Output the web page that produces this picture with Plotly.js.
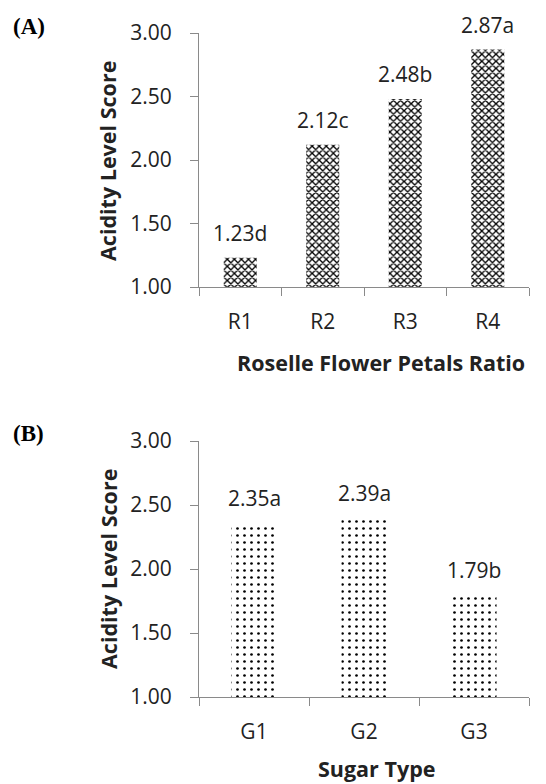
<!DOCTYPE html>
<html>
<head>
<meta charset="utf-8">
<script src="https://cdn.plot.ly/plotly-3.0.1.min.js"></script>
<style>html,body{margin:0;padding:0;background:#fff;}#chart{width:546px;height:784px;}</style>
</head>
<body>
<div id="chart"></div>
<script>
// Panel A data
const ratioCats = ["R1", "R2", "R3", "R4"];
const ratioValues = [1.23, 2.12, 2.48, 2.87];
const ratioLetters = ["d", "c", "b", "a"];
// Panel B data
const sugarCats = ["G1", "G2", "G3"];
const sugarValues = [2.35, 2.39, 1.79];
const sugarLetters = ["a", "a", "b"];
const yTickVals = [1.0, 1.5, 2.0, 2.5, 3.0];
const yTickText = ["1.00", "1.50", "2.00", "2.50", "3.00"];

const FONT = "Open Sans, Lato, sans-serif";
const TXT = "#222222";
const AXC = "#8a8a8a";

const traceA = {
  type: "bar", x: ratioCats, y: ratioValues, xaxis: "x", yaxis: "y",
  width: 0.4,
  marker: {color: "#ffffff", line: {width: 0},
    pattern: {shape: "x", size: 5, solidity: 0.45, fgcolor: "#000000", bgcolor: "#ffffff"}},
  hoverinfo: "skip"
};
const traceB = {
  type: "bar", x: sugarCats, y: sugarValues, xaxis: "x2", yaxis: "y2",
  width: 0.41,
  marker: {color: "#ffffff", line: {width: 0},
    pattern: {shape: ".", size: 7, solidity: 0.12, fgcolor: "#000000", bgcolor: "#ffffff"}},
  hoverinfo: "skip"
};

function xaxisCfg(anchor) {
  return {anchor: anchor, domain: [199/546, 529/546], type: "category",
    showline: true, linecolor: AXC, linewidth: 1, showgrid: false, zeroline: false,
    ticks: "outside", ticklen: 8, tickcolor: AXC, tickson: "boundaries",
    ticklabelstandoff: 16,
    tickfont: {family: FONT, size: 21, color: TXT}, fixedrange: true};
}
function yaxisCfg(anchor, domain) {
  return {anchor: anchor, domain: domain, range: [1, 3],
    tickvals: yTickVals, ticktext: yTickText,
    showline: true, linecolor: AXC, linewidth: 1, showgrid: false, zeroline: false,
    ticks: "outside", ticklen: 8, tickcolor: AXC, ticklabelstandoff: 14,
    tickfont: {family: FONT, size: 21, color: TXT}, fixedrange: true};
}

const annotations = [];
ratioCats.forEach((c, i) => annotations.push({
  xref: "x", yref: "y", x: c, y: ratioValues[i], yshift: 25,
  text: ratioValues[i].toFixed(2) + ratioLetters[i], showarrow: false,
  font: {family: FONT, size: 21, color: TXT}, xanchor: "center", yanchor: "middle"}));
sugarCats.forEach((c, i) => annotations.push({
  xref: "x2", yref: "y2", x: c, y: sugarValues[i], yshift: 26,
  text: sugarValues[i].toFixed(2) + sugarLetters[i], showarrow: false,
  font: {family: FONT, size: 21, color: TXT}, xanchor: "center", yanchor: "middle"}));

const titleFont = {family: FONT, size: 21.5, color: TXT};
const serifFont = {family: "Liberation Serif, Times New Roman, serif", size: 23, color: "#000"};
function px(xp) { return xp / 546; }
function py(yp) { return 1 - yp / 784; }
annotations.push(
  {xref: "paper", yref: "paper", x: px(108), y: py(161), text: "<b>Acidity Level Score</b>", textangle: -90,
   showarrow: false, font: titleFont, xanchor: "center", yanchor: "middle"},
  {xref: "paper", yref: "paper", x: px(381), y: py(362), text: "<b>Roselle Flower Petals Ratio</b>",
   showarrow: false, font: titleFont, xanchor: "center", yanchor: "middle"},
  {xref: "paper", yref: "paper", x: px(108), y: py(569), text: "<b>Acidity Level Score</b>", textangle: -90,
   showarrow: false, font: titleFont, xanchor: "center", yanchor: "middle"},
  {xref: "paper", yref: "paper", x: px(376), y: py(768), text: "<b>Sugar Type</b>",
   showarrow: false, font: titleFont, xanchor: "center", yanchor: "middle"},
  {xref: "paper", yref: "paper", x: px(11), y: py(27), text: "<b>(A)</b>",
   showarrow: false, font: serifFont, xanchor: "left", yanchor: "middle"},
  {xref: "paper", yref: "paper", x: px(11), y: py(433), text: "<b>(B)</b>",
   showarrow: false, font: serifFont, xanchor: "left", yanchor: "middle"}
);

const layout = {
  width: 546, height: 784,
  margin: {l: 0, r: 0, t: 0, b: 0},
  paper_bgcolor: "#ffffff", plot_bgcolor: "#ffffff",
  showlegend: false,
  xaxis: xaxisCfg("y"),
  yaxis: yaxisCfg("x", [1 - 287/784, 1 - 33/784]),
  xaxis2: xaxisCfg("y2"),
  yaxis2: yaxisCfg("x2", [1 - 697/784, 1 - 441/784]),
  annotations: annotations
};

Plotly.newPlot("chart", [traceA, traceB], layout, {staticPlot: true, displayModeBar: false});
</script>
</body>
</html>
